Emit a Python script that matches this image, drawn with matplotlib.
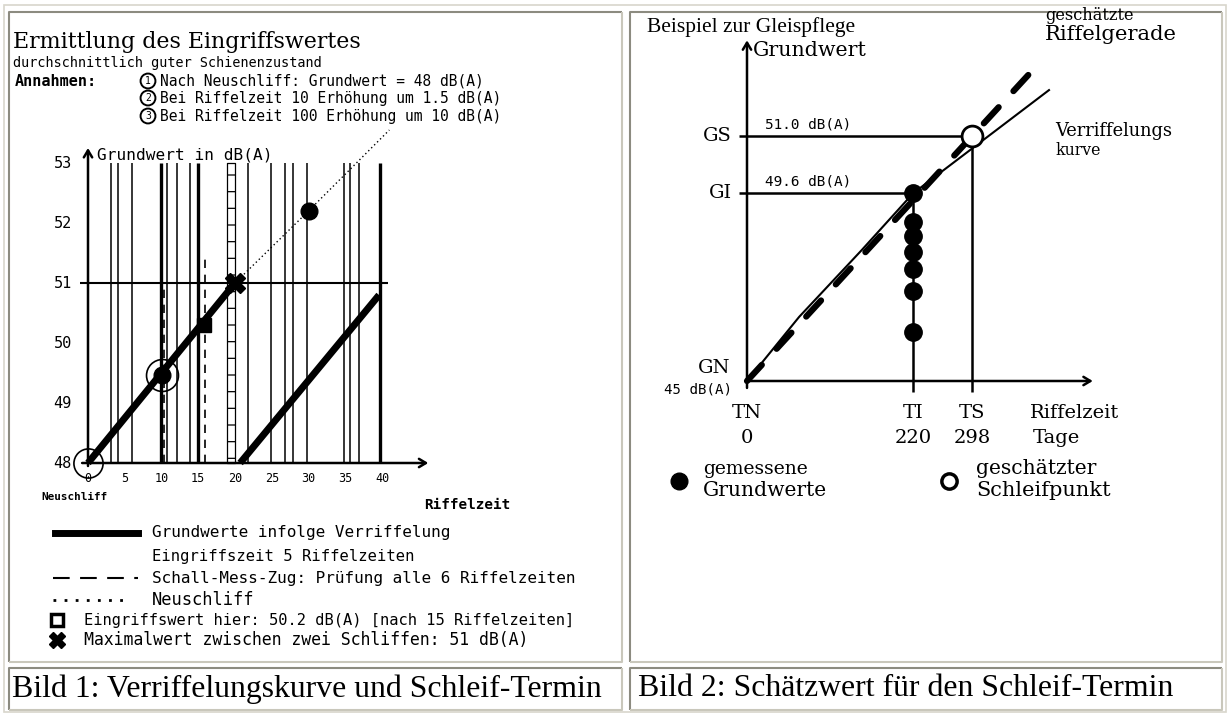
import matplotlib
matplotlib.use("Agg")
import matplotlib.pyplot as plt

# ---------------- data: Bild 1 (Verriffelungskurve) ----------------
riffel_ticks = [0, 5, 10, 15, 20, 25, 30, 35, 40]
db_ticks = [48, 49, 50, 51, 52, 53]
grund1_x = [0, 20]
grund1_y = [48, 51]
grund2_x = [20.7, 39.6]
grund2_y = [48, 50.8]
prognose_x = [20, 30, 41]
prognose_y = [51, 52.2, 53.55]
mess_thin = [3.1, 4.1, 6.0, 10.8, 12.1, 13.9, 21.8, 24.9, 26.8, 27.9, 29.8, 34.8, 35.7, 36.9]
mess_thick = [9.9, 14.9, 39.7]
schall_x = [10.3, 15.9]
schall_top = [51.0, 51.5]
neuschliff_band = [18.9, 20.0]
max_db = 51
eingriff_x, eingriff_y = 15.8, 50.3
kreis2_x, kreis2_y = 10, 49.47
punkt3_x, punkt3_y = 30, 52.2

# ---------------- data: Bild 2 (Schaetzwert) ----------------
tage_ticks = [0, 220, 298]
tage_names = ["TN", "TI", "TS"]
GN, GI, GS = 45.0, 49.6, 51.0
mess_db = [49.6, 48.9, 48.55, 48.15, 47.75, 47.2, 46.2]
kurve_t = [0, 69, 152, 220, 400]
kurve_db = [45.0, 46.57, 48.21, 49.6, 52.13]
gerade_t = [0, 377]
gerade_db = [45.0, 52.59]

W, H = 1229, 714
fig = plt.figure(figsize=(W / 100, H / 100), dpi=100)
fig.patch.set_facecolor("white")
renderer = fig.canvas.get_renderer()

bg = fig.add_axes([0, 0, 1, 1])
bg.set_xlim(0, W)
bg.set_ylim(H, 0)
bg.axis("off")


def fit(ax, x, y, s, width, scale=1.0, **kw):
    t = ax.text(x, y, s, fontsize=10, **kw)
    w = t.get_window_extent(renderer).width
    t.set_fontsize(10 * width / w * scale)
    return t


def data_axes(box, xa, ya):
    L, T, R, B = box
    ax = fig.add_axes([L / W, 1 - B / H, (R - L) / W, (B - T) / H])
    px0, v0, sx = xa
    py0, w0, sy = ya
    ax.set_xlim(v0 + (L - px0) / sx, v0 + (R - px0) / sx)
    ax.set_ylim(w0 - (B - py0) / sy, w0 + (py0 - T) / sy)
    ax.axis("off")
    ax.patch.set_alpha(0)
    return ax


# ---------------- table borders ----------------
dark, light = "#8c8b80", "#c9c7bb"
for (L, T, R, B) in [(9, 12, 622, 662), (630, 12, 1222, 662),
                     (9, 668, 622, 710), (630, 668, 1222, 710)]:
    bg.plot([L, L, R], [B, T, T], color=dark, lw=1.5, solid_capstyle="butt")
    bg.plot([L, R, R], [B, B, T], color=light, lw=1.5, solid_capstyle="butt")
bg.add_patch(plt.Rectangle((4, 5), 1222, 707, fill=False, ec="#d8d6cc", lw=1.2))

cap_font = dict(family="Liberation Serif", va="center")
cap1 = fit(bg, 12, 689, "Bild 1: Verriffelungskurve und Schleif-Termin", 590, **cap_font)
bg.text(638, 689, "Bild 2: Schätzwert für den Schleif-Termin",
        fontsize=cap1.get_fontsize(), **cap_font)

# ---------------- Bild 1 ----------------
mono = "DejaVu Sans Mono"
fit(bg, 13, 42, "Ermittlung des Eingriffswertes", 349, family="DejaVu Serif", va="center")
fit(bg, 13, 63, "durchschnittlich guter Schienenzustand", 310, family=mono, va="center")
fit(bg, 15, 81, "Annahmen:", 82, family=mono, weight="bold", va="center")
annahmen = ["Nach Neuschliff: Grundwert = 48 dB(A)",
            "Bei Riffelzeit 10 Erhöhung um 1.5 dB(A)",
            "Bei Riffelzeit 100 Erhöhung um 10 dB(A)"]
for i, (yy, txt) in enumerate(zip([81, 98, 116], annahmen)):
    bg.text(148, yy, str(i + 1), family=mono, fontsize=7, ha="center", va="center",
            bbox=dict(boxstyle="circle,pad=0.25", fc="white", ec="black", lw=1.4))
    bg.text(160, yy, txt, family=mono, fontsize=10.5, va="center")

ax1 = data_axes((40, 120, 450, 520), (88, 0, 7.35), (463, 48, 60))

ax1.vlines(mess_thin, 48, 53, color="black", lw=1.1)
ax1.vlines(mess_thick, 48, 53, color="black", lw=2.4)
plt.rcParams["hatch.linewidth"] = 0.9
ax1.fill_betweenx([48, 53], neuschliff_band[0], neuschliff_band[1], facecolor="white",
                  edgecolor="black", hatch="-", lw=0.9)
ax1.vlines(schall_x, 48, schall_top, color="black", lw=1.2, linestyles=(0, (5, 4)))
ax1.hlines(max_db, -1.1, 40.8, color="black", lw=1.5)
ax1.plot(prognose_x, prognose_y, color="black", lw=1.0, ls=(0, (1, 2)))
ax1.plot(grund1_x, grund1_y, color="black", lw=5, solid_capstyle="butt")
ax1.plot(grund2_x, grund2_y, color="black", lw=5, solid_capstyle="butt")

arrow = dict(arrowstyle="->,head_length=0.5,head_width=0.3", lw=1.8, color="black",
             shrinkA=0, shrinkB=0)
ax1.annotate("", xy=(0, 53.25), xytext=(0, 47.95), arrowprops=arrow)
ax1.annotate("", xy=(46.3, 48), xytext=(-0.8, 48), arrowprops=arrow)

ax1.plot([grund1_x[0]], [grund1_y[0]], "o", ms=21, mfc="none", mec="black", mew=1.2)
ax1.plot([kreis2_x], [kreis2_y], "o", ms=23, mfc="none", mec="black", mew=1.2)
ax1.plot([kreis2_x], [kreis2_y], "o", ms=12, color="black")
ax1.plot([eingriff_x], [eingriff_y], "s", ms=9.5, color="black")
ax1.plot([grund1_x[1]], [max_db], "X", ms=14, color="black")
ax1.plot([punkt3_x], [punkt3_y], "o", ms=12, color="black")

for v in db_ticks:
    ax1.text(-2.2, v, str(v), family=mono, fontsize=11, ha="right", va="center")
for v in riffel_ticks:
    ax1.text(v, 47.75, str(v), family=mono, fontsize=8.5, ha="center", va="center")
fit(ax1, 1.2, 53.13, "Grundwert in dB(A)", 190, scale=0.92, family=mono, va="center")

fit(bg, 41, 497, "Neuschliff", 66, family=mono, weight="bold", va="center")
fit(bg, 424, 505, "Riffelzeit", 86, family=mono, weight="bold", va="center")

leg_font = dict(family=mono, va="center")
bg.plot([55, 138], [533, 533], color="black", lw=5)
fit(bg, 152, 533, "Grundwerte infolge Verriffelung", 300, **leg_font)
fit(bg, 152, 557, "Eingriffszeit 5 Riffelzeiten", 262, **leg_font)
bg.plot([53, 138], [578, 578], color="black", lw=1.5, ls=(0, (8, 5)))
fit(bg, 152, 578, "Schall-Mess-Zug: Prüfung alle 6 Riffelzeiten", 424, **leg_font)
bg.plot([53, 123], [600, 600], color="black", lw=2, ls=(0, (1, 3)))
fit(bg, 152, 600, "Neuschliff", 103, **leg_font)
bg.plot([57], [620], "s", ms=8, mfc="white", mec="black", mew=2.5)
fit(bg, 84, 620, "Eingriffswert hier: 50.2 dB(A) [nach 15 Riffelzeiten]", 492, **leg_font)
bg.plot([57], [640], "X", ms=11, color="black")
fit(bg, 84, 640, "Maximalwert zwischen zwei Schliffen: 51 dB(A)", 449, **leg_font)

# ---------------- Bild 2 ----------------
serif = "DejaVu Serif"
fit(bg, 647, 27, "Beispiel zur Gleispflege", 207, family="Liberation Serif", va="center")
fit(bg, 1045, 15, "geschätzte", 89, family=serif, va="center")
fit(bg, 1045, 35, "Riffelgerade", 140, scale=0.95, family=serif, va="center")

ax2 = data_axes((640, 20, 1200, 430), (747, 0, 0.755), (381, 45, 40.8))

ax2.annotate("", xy=(0, 53.35), xytext=(0, 44.83), arrowprops=arrow)
ax2.annotate("", xy=(458, GN), xytext=(0, GN), arrowprops=arrow)
ax2.hlines([GS, GI], -10.5, [tage_ticks[2], tage_ticks[1]], color="black", lw=1.8)
ax2.vlines(tage_ticks[1:], 44.72, [GI, GS], color="black", lw=1.8)
ax2.plot(kurve_t, kurve_db, color="black", lw=1.5)
ax2.plot(gerade_t, gerade_db, color="black", lw=4.5, ls=(0, (3.5, 3.5)),
         dash_capstyle="round")
ax2.plot([tage_ticks[1]] * len(mess_db), mess_db, "o", ms=12.5, color="black")
ax2.plot([tage_ticks[2]], [GS], "o", ms=15, mfc="white", mec="black", mew=2)

lab_fs = 14
fit(ax2, 8, 53.1, "Grundwert", 120, scale=0.95, family=serif, va="center")
for name, val in zip(["GS", "GI"], [GS, GI]):
    ax2.text(-20, val, name, family=serif, fontsize=lab_fs, ha="right", va="center")
ax2.text(-22, GN + 0.32, "GN", family=serif, fontsize=lab_fs, ha="right", va="center")
fit(ax2, -20, GN - 0.22, "45 dB(A)", 85 * 0.8, family=mono, ha="right", va="center")
fit(ax2, 24, GS + 0.28, "51.0 dB(A)", 102 * 0.85, family=mono, va="center")
fit(ax2, 24, GI + 0.28, "49.6 dB(A)", 102 * 0.85, family=mono, va="center")
for t, name in zip(tage_ticks, tage_names):
    ax2.text(t, GN - 0.78, name, family=serif, fontsize=lab_fs, ha="center", va="center")
    ax2.text(t, GN - 1.4, str(t), family=serif, fontsize=lab_fs, ha="center", va="center")
ax2.text(375, GN - 0.78, "Riffelzeit", family=serif, fontsize=lab_fs, va="center")
ax2.text(378, GN - 1.4, "Tage", family=serif, fontsize=lab_fs, va="center")
fit(ax2, 408, 51.13, "Verriffelungs", 118, family=serif, va="center")
fit(ax2, 408, 50.66, "kurve", 51, scale=0.9, family=serif, va="center")

bg.plot([679], [481], "o", ms=12, color="black")
fit(bg, 703, 469, "gemessene", 125, scale=0.85, family=serif, va="center")
fit(bg, 703, 491, "Grundwerte", 147, scale=0.85, family=serif, va="center")
bg.plot([949], [481], "o", ms=11, mfc="white", mec="black", mew=2.5)
fit(bg, 976, 469, "geschätzter", 142, scale=0.85, family=serif, va="center")
fit(bg, 976, 491, "Schleifpunkt", 158, scale=0.85, family=serif, va="center")

fig.savefig("out.png", dpi=100, facecolor="white")
